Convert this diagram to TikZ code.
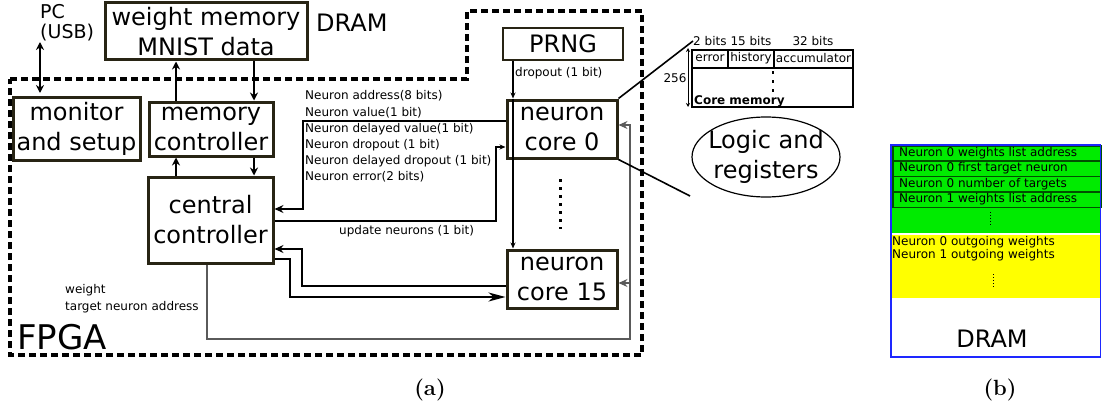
\documentclass[tikz,border=0pt]{standalone}
\usepackage{fontspec}
\setsansfont{DejaVu Sans}
\renewcommand{\familydefault}{\sfdefault}
\usetikzlibrary{arrows.meta,shapes.geometric}
\definecolor{boxc}{RGB}{40,36,20}
\definecolor{gr}{RGB}{0,235,0}
\definecolor{dgr}{RGB}{0,80,0}
\definecolor{yl}{RGB}{255,255,0}
\definecolor{bl}{RGB}{30,40,255}
\definecolor{lg}{RGB}{90,90,90}
\tikzset{
  big/.style={font=\fontsize{24}{30}\selectfont, inner sep=0pt, align=center},
  huge/.style={font=\fontsize{34}{40}\selectfont, inner sep=0pt},
  pcs/.style={font=\fontsize{19}{20.5}\selectfont, inner sep=0pt, align=left},
  small/.style={font=\fontsize{12}{16.2}\selectfont, inner sep=0pt, align=left},
  boldsmall/.style={font=\fontsize{12}{14}\selectfont\bfseries, inner sep=0pt},
  box/.style={draw=boxc, line width=3pt, fill=white, inner sep=0pt, big},
  thinbox/.style={draw=boxc, line width=2pt, fill=white, inner sep=0pt, big},
  fpga/.style={line width=3.2pt, dash pattern=on 7pt off 4pt},
  dbl/.style={{Stealth[length=8pt,width=8pt]}-{Stealth[length=8pt,width=8pt]}, line width=1.5pt},
  arrm/.style={-{Stealth[length=8pt,width=8pt]}, line width=1.5pt},
  arrs/.style={-{Stealth[length=6pt,width=5pt]}, line width=1.1pt},
  arrc/.style={-{Stealth[length=9pt,width=8pt,inset=3pt]}, line width=1.8pt},
  arrt/.style={-{Stealth[length=9pt,width=8pt,inset=3pt]}, line width=2.3pt},
  arrb/.style={-{Stealth[length=17pt,width=9pt,inset=5pt]}, line width=1.6pt},
  arrg/.style={-{Stealth[length=9pt,width=8pt,inset=3pt]}, line width=1.2pt, draw=lg},
  captext/.style={font=\rmfamily\bfseries\fontsize{22}{26}\selectfont, inner sep=0pt},
  dotsv/.style={line width=3pt, dash pattern=on 3pt off 5pt},
  tdots/.style={line width=2.5pt, dash pattern=on 2.5pt off 6.5pt},
  fdots/.style={line width=0.9pt, dash pattern=on 1pt off 2pt},
}
\begin{document}
\begin{tikzpicture}[x=1pt,y=-1pt]
\path[use as bounding box] (0,0) rectangle (1102,404);

% FPGA outline
\draw[fpga] (10,79) -- (467,79) -- (467,11) -- (642,11) -- (642,355) -- (10,355) -- cycle;
\node[huge, anchor=west] (fpga) at (17,337) {FPGA};

% boxes
\node[box, minimum width=202, minimum height=57] (wm) at (206,31.5) {weight memory\\MNIST data};
\node[big, anchor=west] (dram) at (316,23) {DRAM};
\node[pcs, anchor=north west] (pc) at (40,4) {PC\\(USB)};
\node[box, minimum width=127, minimum height=63] (mon) at (76.5,128.5) {monitor\\and setup};
\node[box, minimum width=124, minimum height=54] (mc) at (211,129) {memory\\controller};
\node[box, minimum width=125, minimum height=86] (cc) at (210.5,220) {central\\controller};
\node[thinbox, minimum width=120, minimum height=32] (prng) at (563,44) {PRNG};
\node[box, minimum width=110, minimum height=58] (nc0) at (562,129) {neuron\\core 0};
\node[box, minimum width=110, minimum height=58] (nc15) at (562,279) {neuron\\core 15};

% PC link
\coordinate (pcA) at (40,42);
\coordinate (pcB) at (40,93);
\draw[dbl] (pcA) -- (pcB);

% memory controller links
\draw[arrm] ([xshift=-35pt]mc.north) -- ([xshift=-35pt]mc.north |- wm.south);
\draw[arrm] ([xshift=43pt]mc.north |- wm.south) -- ([xshift=43pt]mc.north);
\draw[arrm] ([xshift=-34.5pt]cc.north) -- ([xshift=-34.5pt]cc.north |- mc.south);
\draw[arrm] ([xshift=43.5pt]cc.north |- mc.south) -- ([xshift=43.5pt]cc.north);

% PRNG dropout
\node[small, anchor=west] (dlab) at (515,73) {dropout (1 bit)};
\draw[arrs] ([xshift=-50pt]prng.south) -- ([xshift=-49pt]nc0.north);
\draw[arrs] ([xshift=-49pt]nc0.north) -- ([xshift=-49pt]nc15.north);

% neuron core 0 -> central
\node[small, anchor=north west] (nlab) at (305,90.5) {Neuron address(8 bits)\\Neuron value(1 bit)\\Neuron delayed value(1 bit)\\Neuron dropout (1 bit)\\Neuron delayed dropout (1 bit)\\Neuron error(2 bits)};
\draw[arrc] (nc0.west |- 0,121) -- (303,121) -- (303,209) -- (cc.east |- 0,209);

% update neurons
\draw[arrs] (cc.east |- 0,221) -- (496,221) -- (496,147) -- (nc0.west |- 0,147);
\node[small, anchor=west] (ulab) at (339,231) {update neurons (1 bit)};

% core 15 links
\draw[arrt] (nc15.west |- 0,286) -- (302,286) -- (302,249) -- (cc.east |- 0,249);
\draw[arrb] (cc.east |- 0,259) -- (290,259) -- (290,297) -- (nc15.west |- 0,297);

% weight / target neuron address
\draw[arrg] (cc.south -| 207,0) -- (207,339) -- (630,339) -- (630,125) -- (nc0.east |- 0,125);
\draw[arrg] (630,283) -- (nc15.east |- 0,283);
\node[small, anchor=north west, font=\fontsize{12}{17}\selectfont] (wlab) at (65,284) {weight\\target neuron address};

% dots between cores
\draw[dotsv] (560,179) -- (560,229);

% core memory detail
\node[small, anchor=west] (b2) at (693,41) {2 bits};
\node[small] (b15) at (751,41) {15 bits};
\node[small] (b32) at (813,41) {32 bits};
\node[draw, line width=1.4pt, minimum width=161, minimum height=57, inner sep=0pt] (cm) at (772.5,78.5) {};
\draw[line width=1.4pt] (cm.west |- 0,68) -- (cm.east |- 0,68);
\draw[line width=1.4pt] (728,50) -- (728,68);
\draw[line width=1.4pt] (774,50) -- (774,68);
\node[small] (terr) at (710,58.5) {error};
\node[small] (this) at (751,58.5) {history};
\node[small] (tacc) at (813.5,58.5) {accumulator};
\draw[tdots] (773,71) -- (773,93);
\node[boldsmall, anchor=west] (cmlab) at (694,101) {Core memory};
\coordinate (h1) at (688,48);
\coordinate (h2) at (688,107);
\draw[{Stealth[length=4pt,width=4pt]}-{Stealth[length=4pt,width=4pt]}, line width=1pt] (h1) -- (h2);
\node[small] (n256) at (675,78) {256};

\node[ellipse, draw, line width=1.2pt, minimum width=148, minimum height=80, inner sep=0pt] (lr) at (766,157) {};
\node[big] (lrt) at (lr.center) {Logic and\\registers};

\coordinate (le) at (690,196);
\draw[line width=1.6pt] (nc0.north east) -- (b2.west);
\draw[line width=1.6pt] (nc0.south east) -- (le);

% panel (b)
\fill[gr] (892,146) rectangle (1100,233);
\fill[yl] (892,234.5) rectangle (1100,298);
\draw[dgr, line width=1.2pt] (893,146) rectangle (1101,161);
\draw[dgr, line width=1.2pt] (893,161) rectangle (1101,176.5);
\draw[dgr, line width=1.2pt] (893,176.5) rectangle (1101,192);
\draw[dgr, line width=1.2pt] (893,192) rectangle (1101,207.5);
\node[small, anchor=west] (r1) at (899,153.5) {Neuron 0 weights list address};
\node[small, anchor=west] (r2) at (899,168.5) {Neuron 0 first target neuron};
\node[small, anchor=west] (r3) at (899,184) {Neuron 0 number of targets};
\node[small, anchor=west] (r4) at (899,199.5) {Neuron 1 weights list address};
\draw[fdots] (990,212) -- (990,226);
\node[small, anchor=west] (y1) at (892,242) {Neuron 0 outgoing weights};
\node[small, anchor=west] (y2) at (892,255) {Neuron 1 outgoing weights};
\draw[fdots] (993,274) -- (993,288);
\node[draw=bl, line width=1.8pt, minimum width=209.5, minimum height=212, inner sep=0pt] (dramb) at (995.75,251) {};
\node[big] (dramt) at (992,339) {DRAM};

% captions
\node[captext] (ca) at (430,390) {(a)};
\node[captext] (cb) at (1000,390) {(b)};
\end{tikzpicture}
\end{document}
